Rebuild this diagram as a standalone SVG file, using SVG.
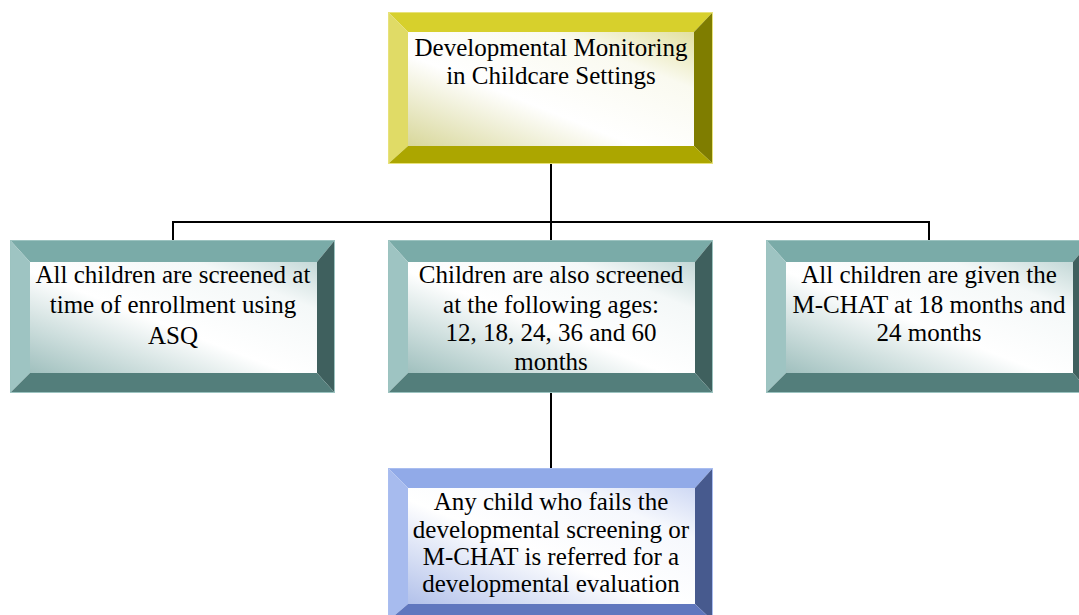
<svg xmlns="http://www.w3.org/2000/svg" width="1079" height="615" viewBox="0 0 1079 615">
  <defs>
    <linearGradient id="fillYellow" x1="0" y1="1" x2="1" y2="0">
      <stop offset="0" stop-color="#d8d79a"/>
      <stop offset="0.4" stop-color="#ffffff"/>
      <stop offset="0.75" stop-color="#fafaf0"/>
      <stop offset="1" stop-color="#e2e0a0"/>
    </linearGradient>
    <linearGradient id="fillTeal" x1="0" y1="1" x2="1" y2="0">
      <stop offset="0" stop-color="#a0c0be"/>
      <stop offset="0.45" stop-color="#ffffff"/>
      <stop offset="0.78" stop-color="#f4f8f8"/>
      <stop offset="1" stop-color="#c2d7d6"/>
    </linearGradient>
    <linearGradient id="fillBlue" x1="0" y1="1" x2="1" y2="0">
      <stop offset="0" stop-color="#b2c1ea"/>
      <stop offset="0.45" stop-color="#ffffff"/>
      <stop offset="0.78" stop-color="#f6f8fd"/>
      <stop offset="1" stop-color="#cfd9f4"/>
    </linearGradient>
  </defs>
  <style>
    .lbl { font-family: "Liberation Serif", "Times New Roman", serif; font-size: 25px; fill: #000; text-anchor: middle; }
    .wire { stroke: #000; stroke-width: 2; fill: none; }
    .yellow .t { fill: #d7d02c; } .yellow .l { fill: #e0db66; } .yellow .r { fill: #7f7d00; } .yellow .b { fill: #aca600; } .yellow .edge { stroke: #e8e27a; }
    .teal .t { fill: #7aaba8; } .teal .l { fill: #9ec4c2; } .teal .r { fill: #3f605e; } .teal .b { fill: #537e7b; } .teal .edge { stroke: #9cc3c0; }
    .blue .t { fill: #91aae8; } .blue .l { fill: #a7bbee; } .blue .r { fill: #475a8e; } .blue .b { fill: #6077be; } .blue .edge { stroke: #a9bdf0; }
    .edge { fill: none; stroke-width: 1; }
  </style>

  <!-- connectors -->
  <g id="connectors">
    <path class="wire" d="M551 164 V222"/>
    <path class="wire" d="M173 240 V222 H929 V240"/>
    <path class="wire" d="M551 222 V240"/>
    <path class="wire" d="M551 393 V468"/>
  </g>

  <!-- root -->
  <g id="node-root" class="yellow" transform="translate(388,12)">
    <rect x="20" y="20" width="286" height="114" fill="url(#fillYellow)"/>
    <polygon class="t" points="0,0 325,0 306,20 20,20"/>
    <polygon class="l" points="0,0 20,20 20,134 0,152"/>
    <polygon class="r" points="325,0 325,152 306,134 306,20"/>
    <polygon class="b" points="0,152 20,134 306,134 325,152"/>
    <rect class="edge" x="0.5" y="0.5" width="324" height="151"/>
    <text class="lbl" x="163" y="43.5">Developmental Monitoring</text>
    <text class="lbl" x="163" y="72">in Childcare Settings</text>
  </g>

  <!-- enrollment screening -->
  <g id="node-enrollment" class="teal" transform="translate(10,240)">
    <rect x="20" y="20" width="287" height="113" fill="url(#fillTeal)"/>
    <polygon class="t" points="0,0 325,0 307,22 20,22"/>
    <polygon class="l" points="0,0 20,22 20,133 0,153"/>
    <polygon class="r" points="325,0 325,153 307,133 307,22"/>
    <polygon class="b" points="0,153 20,133 307,133 325,153"/>
    <rect class="edge" x="0.5" y="0.5" width="324" height="152"/>
    <text class="lbl" x="163" y="43">All children are screened at</text>
    <text class="lbl" x="163" y="73">time of enrollment using</text>
    <text class="lbl" x="163" y="104">ASQ</text>
  </g>

  <!-- age screening -->
  <g id="node-ages" class="teal" transform="translate(388,240)">
    <rect x="20" y="20" width="287" height="113" fill="url(#fillTeal)"/>
    <polygon class="t" points="0,0 325,0 307,22 20,22"/>
    <polygon class="l" points="0,0 20,22 20,133 0,153"/>
    <polygon class="r" points="325,0 325,153 307,133 307,22"/>
    <polygon class="b" points="0,153 20,133 307,133 325,153"/>
    <rect class="edge" x="0.5" y="0.5" width="324" height="152"/>
    <text class="lbl" x="163" y="43">Children are also screened</text>
    <text class="lbl" x="163" y="73">at the following ages:</text>
    <text class="lbl" x="163" y="101">12, 18, 24, 36 and 60</text>
    <text class="lbl" x="163" y="130">months</text>
  </g>

  <!-- M-CHAT -->
  <g id="node-mchat" class="teal" transform="translate(766,240)">
    <rect x="20" y="20" width="287" height="113" fill="url(#fillTeal)"/>
    <polygon class="t" points="0,0 325,0 307,22 20,22"/>
    <polygon class="l" points="0,0 20,22 20,133 0,153"/>
    <polygon class="r" points="325,0 325,153 307,133 307,22"/>
    <polygon class="b" points="0,153 20,133 307,133 325,153"/>
    <rect class="edge" x="0.5" y="0.5" width="324" height="152"/>
    <text class="lbl" x="163" y="43">All children are given the</text>
    <text class="lbl" x="163" y="73">M-CHAT at 18 months and</text>
    <text class="lbl" x="163" y="101">24 months</text>
  </g>

  <!-- referral -->
  <g id="node-referral" class="blue" transform="translate(388,468)">
    <rect x="20" y="20" width="287" height="116" fill="url(#fillBlue)"/>
    <polygon class="t" points="0,0 325,0 307,20 20,20"/>
    <polygon class="l" points="0,0 20,20 20,136 0,153"/>
    <polygon class="r" points="325,0 325,153 307,136 307,20"/>
    <polygon class="b" points="0,153 20,136 307,136 325,153"/>
    <rect class="edge" x="0.5" y="0.5" width="324" height="152"/>
    <text class="lbl" x="163" y="42">Any child who fails the</text>
    <text class="lbl" x="163" y="70">developmental screening or</text>
    <text class="lbl" x="163" y="97">M-CHAT is referred for a</text>
    <text class="lbl" x="163" y="124">developmental evaluation</text>
  </g>
</svg>
